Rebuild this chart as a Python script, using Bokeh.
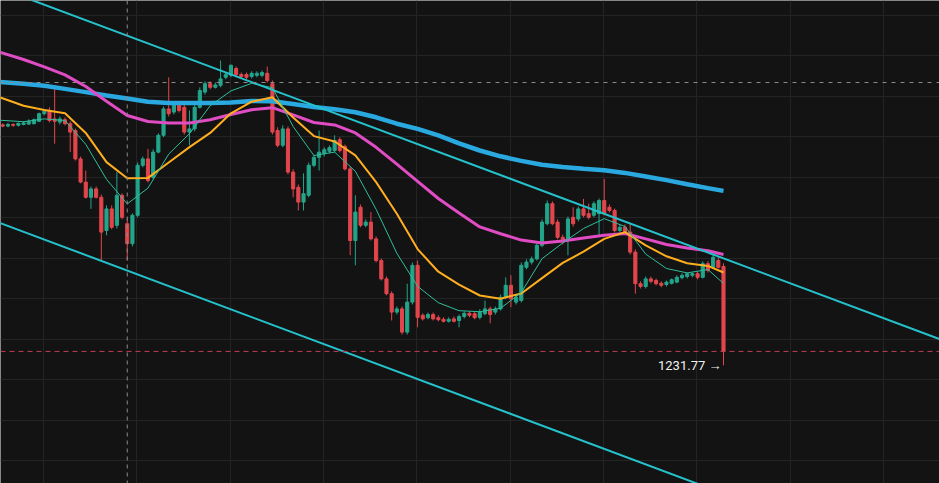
from bokeh.plotting import figure
from bokeh.models import Range1d, Grid, FixedTicker, Span, ColumnDataSource
from bokeh.core.properties import value
from bokeh.embed import file_html
from bokeh.resources import INLINE

# ---------------- data ----------------
opens = [1288.4, 1288.1, 1288.5, 1288.3, 1288.5, 1288.6, 1288.7, 1289.3, 1291.2, 1292.0,
         1289.9, 1289.1, 1289.7, 1288.7, 1287.0, 1279.9, 1274.1, 1270.3, 1272.4, 1270.3,
         1262.0, 1267.4, 1263.3, 1270.8, 1263.7, 1258.7, 1265.8, 1278.3, 1279.9, 1275.3,
         1281.6, 1285.8, 1292.4, 1291.6, 1293.3, 1292.8, 1286.6, 1287.4, 1292.8, 1296.6,
         1298.7, 1297.8, 1298.3, 1300.3, 1300.8, 1302.5, 1301.0, 1301.0, 1300.5, 1300.8,
         1300.8, 1301.3, 1298.7, 1287.0, 1283.3, 1287.4, 1276.6, 1272.8, 1269.1, 1270.8,
         1278.3, 1280.3, 1281.2, 1281.8, 1282.0, 1284.7, 1283.0, 1277.4, 1259.5, 1267.8,
         1263.3, 1264.1, 1259.9, 1254.5, 1249.9, 1246.2, 1241.6, 1242.4, 1236.6, 1244.1,
         1253.3, 1240.8, 1240.2, 1241.0, 1240.2, 1239.8, 1239.3, 1239.9, 1239.5, 1240.5,
         1241.3, 1241.2, 1240.3, 1241.2, 1242.4, 1241.6, 1242.4, 1245.3, 1248.3, 1244.1,
         1244.5, 1252.8, 1254.1, 1254.9, 1258.3, 1263.7, 1268.7, 1264.1, 1260.3, 1259.9,
         1265.3, 1264.9, 1267.4, 1266.2, 1265.8, 1266.2, 1269.5, 1267.8, 1267.0, 1262.0,
         1262.8, 1261.6, 1256.6, 1248.7, 1248.0, 1249.9, 1249.5, 1248.8, 1248.5, 1248.8,
         1249.1, 1250.2, 1250.5, 1250.8, 1251.2, 1250.3, 1253.7, 1252.8, 1254.5, 1253.0]
closes = [1288.1, 1288.5, 1288.3, 1288.8, 1288.9, 1289.3, 1289.7, 1291.2, 1291.8, 1289.5,
          1289.3, 1289.9, 1288.7, 1286.6, 1279.9, 1274.1, 1270.3, 1272.4, 1270.3, 1261.6,
          1267.4, 1262.8, 1270.8, 1265.3, 1258.7, 1265.8, 1278.3, 1279.9, 1274.5, 1281.6,
          1285.8, 1292.4, 1291.2, 1293.7, 1292.0, 1286.6, 1287.4, 1292.8, 1297.0, 1298.7,
          1297.8, 1298.4, 1299.9, 1301.0, 1303.3, 1301.0, 1300.5, 1300.3, 1301.3, 1301.3,
          1301.5, 1299.5, 1286.6, 1283.3, 1287.4, 1276.6, 1272.4, 1269.1, 1271.2, 1278.3,
          1280.3, 1281.6, 1282.2, 1282.7, 1284.5, 1282.0, 1277.4, 1259.5, 1266.6, 1263.3,
          1264.1, 1259.9, 1254.5, 1249.9, 1246.2, 1241.6, 1242.4, 1236.6, 1244.1, 1253.3,
          1240.3, 1239.9, 1241.0, 1239.9, 1239.7, 1239.3, 1239.8, 1239.3, 1240.5, 1241.3,
          1240.8, 1240.2, 1241.6, 1242.4, 1241.0, 1242.4, 1245.3, 1248.3, 1244.9, 1245.3,
          1253.3, 1254.1, 1254.9, 1258.3, 1264.1, 1268.7, 1263.7, 1260.3, 1259.1, 1264.9,
          1263.7, 1267.4, 1265.8, 1265.3, 1268.7, 1269.5, 1266.2, 1267.0, 1262.0, 1262.8,
          1261.6, 1256.6, 1248.7, 1248.0, 1249.9, 1249.3, 1248.7, 1248.3, 1249.1, 1249.7,
          1250.3, 1250.8, 1251.2, 1251.2, 1250.3, 1253.7, 1252.0, 1255.3, 1252.8, 1231.77]
highs = [1288.8, 1288.9, 1288.8, 1289.0, 1289.3, 1289.8, 1290.0, 1291.5, 1292.3, 1292.8,
         1297.4, 1290.5, 1290.3, 1289.3, 1287.5, 1280.5, 1277.0, 1273.0, 1273.0, 1271.0,
         1268.3, 1268.3, 1276.6, 1271.3, 1265.0, 1266.3, 1279.0, 1280.5, 1282.4, 1282.3,
         1286.3, 1293.0, 1300.3, 1294.3, 1294.0, 1293.5, 1292.0, 1293.5, 1297.8, 1299.3,
         1299.3, 1299.0, 1304.5, 1301.5, 1303.5, 1303.0, 1301.5, 1301.5, 1301.8, 1301.8,
         1302.0, 1303.0, 1299.5, 1287.8, 1288.3, 1288.0, 1277.3, 1273.5, 1276.3, 1279.0,
         1281.0, 1287.0, 1282.8, 1283.3, 1285.8, 1285.3, 1283.5, 1278.0, 1270.8, 1268.5,
         1264.8, 1266.6, 1260.5, 1255.0, 1250.5, 1246.8, 1243.0, 1243.0, 1248.7, 1254.0,
         1254.5, 1241.3, 1241.5, 1241.5, 1240.8, 1240.3, 1240.3, 1240.5, 1241.0, 1241.8,
         1241.8, 1241.8, 1242.3, 1244.5, 1243.0, 1243.0, 1246.0, 1250.3, 1250.8, 1246.0,
         1254.0, 1254.8, 1255.5, 1258.8, 1264.8, 1269.5, 1269.3, 1264.8, 1261.0, 1265.5,
         1267.8, 1268.0, 1269.9, 1268.7, 1269.3, 1270.0, 1274.9, 1268.5, 1267.5, 1263.5,
         1263.5, 1263.7, 1257.3, 1249.3, 1250.5, 1250.5, 1250.0, 1249.3, 1249.5, 1250.0,
         1250.8, 1251.3, 1251.5, 1251.5, 1251.8, 1254.3, 1254.3, 1256.2, 1255.3, 1253.8]
lows = [1287.8, 1287.8, 1287.9, 1288.0, 1288.3, 1288.4, 1288.5, 1289.1, 1290.8, 1289.0,
        1283.7, 1288.5, 1288.3, 1281.6, 1279.5, 1273.8, 1270.0, 1267.4, 1270.0, 1254.5,
        1260.8, 1262.3, 1262.5, 1264.8, 1254.5, 1258.0, 1265.3, 1277.8, 1274.0, 1274.8,
        1281.3, 1285.3, 1290.5, 1291.0, 1291.5, 1286.0, 1283.3, 1286.8, 1292.5, 1296.0,
        1297.3, 1297.5, 1297.8, 1299.8, 1300.3, 1300.5, 1300.0, 1299.8, 1300.0, 1300.3,
        1300.3, 1299.0, 1286.0, 1282.8, 1282.8, 1276.0, 1270.3, 1267.0, 1267.0, 1270.3,
        1277.8, 1277.0, 1280.5, 1281.3, 1281.5, 1281.5, 1277.0, 1255.8, 1253.3, 1262.8,
        1262.8, 1259.5, 1254.0, 1249.5, 1245.8, 1239.5, 1241.0, 1236.0, 1236.0, 1243.5,
        1237.8, 1239.5, 1239.8, 1239.5, 1239.3, 1239.0, 1239.0, 1239.0, 1237.8, 1240.0,
        1240.3, 1239.8, 1239.8, 1240.8, 1238.8, 1241.0, 1242.0, 1244.8, 1242.8, 1243.5,
        1244.0, 1252.3, 1253.5, 1254.5, 1257.8, 1263.3, 1263.3, 1259.8, 1258.5, 1255.8,
        1263.0, 1264.3, 1265.3, 1264.8, 1265.3, 1260.8, 1265.8, 1266.5, 1261.5, 1261.5,
        1261.0, 1256.0, 1246.2, 1247.5, 1247.5, 1248.8, 1248.3, 1247.8, 1248.0, 1248.5,
        1248.8, 1249.8, 1250.0, 1250.3, 1249.8, 1250.0, 1251.5, 1252.5, 1252.5, 1228.3]

# moving averages, every 4 candles
ma_idx = [-1] + list(range(4, 137, 4)) + [139]
ma_fast = [1289.6, 1289.2, 1289.9, 1289.5, 1283.55, 1274.8, 1268.65, 1272.6, 1281.1, 1286.2,
           1293.2, 1296.9, 1298.8, 1297.7, 1288.0, 1280.75, 1281.6, 1276.8, 1267.3, 1256.3,
           1248.05, 1243.95, 1241.95, 1241.7, 1242.55, 1246.5, 1254.95, 1258.9, 1262.5, 1264.95,
           1263.0, 1256.1, 1252.5, 1251.4, 1252.25, 1248.75]
ma_mid = [1295.5, 1293.2, 1292.1, 1291.3, 1286.4, 1279.1, 1275.05, 1275.15, 1279.0, 1282.85,
          1286.4, 1291.3, 1294.2, 1295.3, 1290.25, 1285.6, 1284.25, 1280.8, 1274.1, 1266.2,
          1257.35, 1251.7, 1248.45, 1245.75, 1244.95, 1246.25, 1250.1, 1253.9, 1256.7, 1259.9,
          1261.6, 1258.3, 1255.55, 1253.8, 1253.15, 1251.5]
ma_slow = [1306.75, 1304.75, 1302.9, 1300.9, 1298.0, 1294.3, 1290.75, 1289.25, 1288.85, 1288.9,
           1289.7, 1291.0, 1292.2, 1292.7, 1290.9, 1289.0, 1288.4, 1286.4, 1282.8, 1278.6,
           1274.3, 1270.0, 1266.4, 1262.9, 1261.2, 1259.6, 1258.9, 1259.4, 1260.1, 1260.8,
           1261.25, 1259.9, 1258.5, 1257.65, 1256.95, 1256.0]
ma_long = [1299.2, 1298.7, 1298.2, 1297.4, 1296.6, 1295.75, 1295.0, 1294.2, 1293.9, 1293.9,
           1293.85, 1294.0, 1294.4, 1294.3, 1293.65, 1292.9, 1292.3, 1291.55, 1290.3, 1288.7,
           1287.4, 1285.8, 1283.8, 1282.0, 1280.55, 1279.4, 1278.45, 1277.9, 1277.45, 1277.05,
           1276.4, 1275.5, 1274.6, 1273.55, 1272.6, 1271.9]

# descending channel
channel_x = [-1, 181]
channel_upper = [1322.8, 1234.7]
channel_lower = [1264.1, 1175.9]

last_price = 1231.77
last_label = "1231.77 →"
crosshair_x = 24
crosshair_y = 1299.0

# ---------------- figure ----------------
BG = "#131313"
p = figure(width=939, height=483, x_range=Range1d(-0.444, 180.66), y_range=Range1d(1198.75, 1319.5),
           x_axis_type=None, y_axis_type=None, output_backend="svg", toolbar_location=None,
           min_border=0, background_fill_color=BG, border_fill_color=BG)
p.outline_line_color = None

xt = [7.85 + 18 * k for k in range(0, 10)]
yt = [1315.75 - 10.1125 * k for k in range(0, 12)]
p.add_layout(Grid(dimension=0, ticker=FixedTicker(ticks=xt), grid_line_color="#242424", grid_line_width=1))
p.add_layout(Grid(dimension=1, ticker=FixedTicker(ticks=yt), grid_line_color="#242424", grid_line_width=1))

p.add_layout(Span(location=crosshair_x, dimension="height", line_color="#8a8a8a", line_dash="4 4", line_width=1))
p.add_layout(Span(location=crosshair_y, dimension="width", line_color="#8a8a8a", line_dash="4 5", line_width=1))
p.add_layout(Span(location=last_price, dimension="width", line_color="#c03e58", line_dash="5 4", line_width=1))

UP, DOWN = "#22a58a", "#e2464c"
idx = list(range(len(opens)))
cols = [UP if c >= o else DOWN for o, c in zip(opens, closes)]
src = ColumnDataSource(dict(x=idx, o=opens, c=closes, h=highs, l=lows,
                            top=[max(o, c) for o, c in zip(opens, closes)],
                            bot=[min(o, c) for o, c in zip(opens, closes)], col=cols))
p.segment(x0="x", y0="h", x1="x", y1="l", color="col", line_width=1, source=src)
p.vbar(x="x", width=0.6, top="top", bottom="bot", fill_color="col", line_color="col", line_width=1, source=src)

p.line(ma_idx, ma_long, line_color="#2aa9e0", line_width=4.5)
p.line(ma_idx, ma_slow, line_color="#e04cc4", line_width=3)
p.line(ma_idx, ma_mid, line_color="#ffae1f", line_width=2)
p.line(ma_idx, ma_fast, line_color="#2fbf9c", line_width=1)

p.line(channel_x, channel_upper, line_color="#25c2cc", line_width=2)
p.line(channel_x, channel_lower, line_color="#25c2cc", line_width=2)

p.text(x=[len(opens) - 1], y=[last_price], text=[last_label], text_align="right", text_baseline="middle",
       x_offset=-2, y_offset=14, text_color="#f0f0f0", text_font=value("Roboto"), text_font_size="13px")

open("out.html", "w").write(file_html(p, INLINE))
